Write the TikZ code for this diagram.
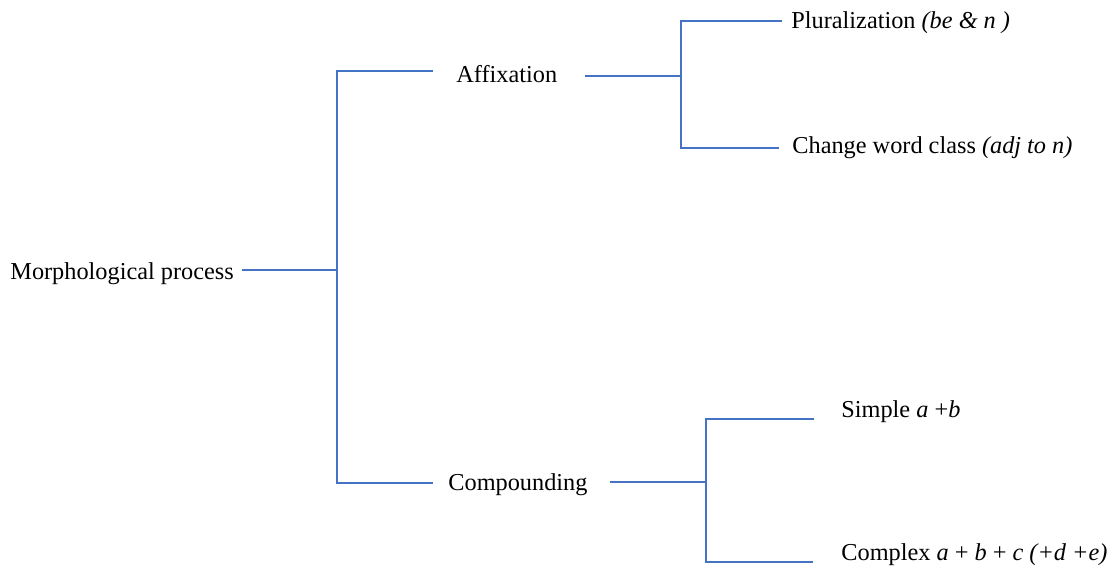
\documentclass[tikz,border=0pt]{standalone}
\usepackage{fontspec}
\setmainfont{Liberation Serif}
\usepackage{xcolor}
\definecolor{lineblue}{RGB}{68,114,196}
\tikzset{
  branch/.style={draw=lineblue, line width=0.75pt},
  txt/.style={anchor=base west, inner sep=0pt, font=\fontsize{12.15}{14}\selectfont}
}

\begin{document}
\begin{tikzpicture}[x=0.5pt, y=-0.5pt]
\useasboundingbox (0,0) rectangle (1118,569);
%Text
\node[txt] (morph) at (10,279) {Morphological process};
\node[txt] (affix) at (456,82) {Affixation};
\node[txt] (compound) at (448,490) {Compounding};
\node[txt] (plural) at (791,28) {Pluralization \textit{(be \& n )}};
\node[txt] (change) at (792,153) {Change word class \textit{(adj to n)}};
\node[txt] (simple) at (841,417) {Simple \textit{a} +\textit{b}};
\node[txt] (complex) at (841,560) {Complex \textit{a} + \textit{b} + \textit{c} \textit{(+d +e)}};
%Line ends
\coordinate (morph-r) at (242,270);
\coordinate (root) at (337,270);
\coordinate (affix-j) at (337,71);
\coordinate (affix-l) at (433,71);
\coordinate (affix-r) at (585,76);
\coordinate (affix-k) at (681,76);
\coordinate (plural-j) at (681,21);
\coordinate (plural-l) at (782,21);
\coordinate (change-j) at (681,148);
\coordinate (change-l) at (779,148);
\coordinate (compound-j) at (337,483);
\coordinate (compound-l) at (433,483);
\coordinate (compound-r) at (610,482);
\coordinate (compound-k) at (706,482);
\coordinate (simple-j) at (706,419);
\coordinate (simple-l) at (814,419);
\coordinate (complex-j) at (706,562);
\coordinate (complex-l) at (813,562);
%Lines
\draw[branch] (morph-r) -- (root);
\draw[branch] (affix-l) -- (affix-j) -- (compound-j) -- (compound-l);
\draw[branch] (affix-r) -- (affix-k);
\draw[branch] (plural-l) -- (plural-j) -- (change-j) -- (change-l);
\draw[branch] (compound-r) -- (compound-k);
\draw[branch] (simple-l) -- (simple-j) -- (complex-j) -- (complex-l);
\end{tikzpicture}
\end{document}
